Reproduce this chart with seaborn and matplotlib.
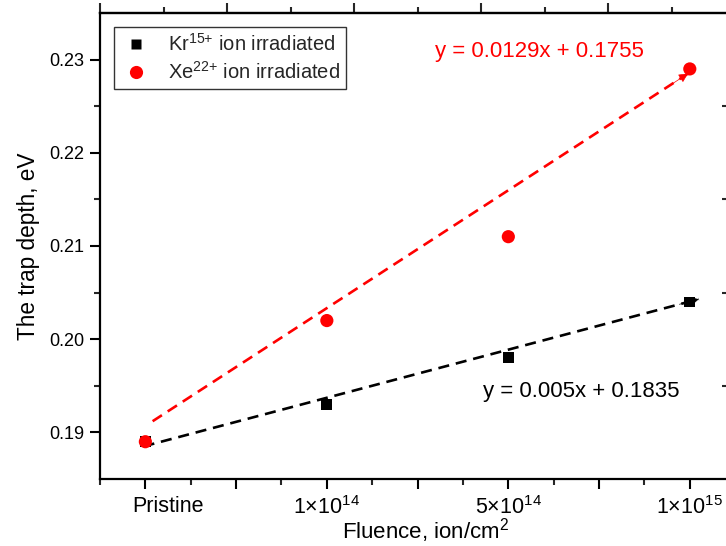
import numpy as np
import pandas as pd
import matplotlib
matplotlib.use("Agg")
import matplotlib.pyplot as plt
import matplotlib.transforms as mtransforms
import seaborn as sns

# ---- data ----
categories = ["Pristine", "1\u00d710$^{14}$", "5\u00d710$^{14}$", "1\u00d710$^{15}$"]
x_pos = [1, 2, 3, 4]
kr_values = [0.189, 0.193, 0.198, 0.204]
xe_values = [0.189, 0.202, 0.211, 0.229]
kr_label = "Kr$^{15{+}}$ ion irradiated"
xe_label = "Xe$^{22{+}}$ ion irradiated"
kr_eq = "y = 0.005x + 0.1835"
xe_eq = "y = 0.0129x + 0.1755"
# drawn trend-line endpoints
kr_line_x = [0.99, 4.05]
kr_line_y = [0.1885, 0.2043]
xe_line_x = [1.04, 3.99]
xe_line_y = [0.1912, 0.2285]

sns.set_theme(style="ticks")
plt.rcParams["font.family"] = ["Liberation Sans", "DejaVu Sans"]
plt.rcParams["mathtext.fontset"] = "custom"
plt.rcParams["mathtext.rm"] = "Liberation Sans"
plt.rcParams["mathtext.it"] = "Liberation Sans:italic"
plt.rcParams["mathtext.bf"] = "Liberation Sans:bold"

fig = plt.figure(figsize=(7.26, 5.46), dpi=100)
L, R, T, B = 100, 729, 13, 479
ax = fig.add_axes([L / 726, (546 - B) / 546, (R - L) / 726, (B - T) / 546])

df = pd.DataFrame({"x": x_pos * 2,
                   "y": kr_values + xe_values,
                   "series": [kr_label] * 4 + [xe_label] * 4})

red = "#ff0000"
dash = (0, (4.2, 2.6))
ax.plot(kr_line_x, kr_line_y, color="black", lw=1.9, linestyle=dash, zorder=2)
ax.plot(xe_line_x, xe_line_y, color=red, lw=1.9, linestyle=dash, zorder=2)
for lx, ly, c in [(kr_line_x, kr_line_y, "black"), (xe_line_x, xe_line_y, red)]:
    dx = (lx[1] - lx[0]) * 0.035
    dy = (ly[1] - ly[0]) * 0.035
    ax.annotate("", xy=(lx[1], ly[1]), xytext=(lx[1] - dx, ly[1] - dy),
                arrowprops=dict(arrowstyle="-|>", color=c, lw=0.5,
                                mutation_scale=14, shrinkA=0, shrinkB=0),
                zorder=3)

sns.scatterplot(data=df, x="x", y="y", hue="series", style="series",
                size="series",
                palette={kr_label: "black", xe_label: red},
                markers={kr_label: "s", xe_label: "o"},
                sizes={kr_label: 60, xe_label: 90},
                edgecolor="none", ax=ax, zorder=4)

ax.set_xlim(0.752, 4.216)
ax.set_ylim(0.185, 0.235)

major_x = [1, 1.5, 2, 2.5, 3, 3.5, 4]
ax.set_xticks(major_x)
labels = []
for v in major_x:
    labels.append(categories[x_pos.index(v)] if v in x_pos else "")
ax.set_xticklabels(labels)
ax.set_xticks([0.75, 1.25, 1.75, 2.25, 2.75, 3.25, 3.75], minor=True)
ax.set_yticks([0.19, 0.20, 0.21, 0.22, 0.23])
ax.set_yticklabels(["0.19", "0.20", "0.21", "0.22", "0.23"])
ax.set_yticks([0.195, 0.205, 0.215, 0.225], minor=True)

ax.tick_params(axis="x", which="major", direction="out", length=7, width=1.5,
               labelsize=15.5, pad=5, colors="black")
ax.tick_params(axis="x", which="minor", direction="out", length=4, width=1.5)
ax.tick_params(axis="y", which="major", direction="out", length=7, width=1.5,
               labelsize=13, pad=4, colors="black")
ax.tick_params(axis="y", which="minor", direction="out", length=4, width=1.5)
ax.tick_params(top=False, right=False)

# "Pristine" label sits to the right of its tick in the reference
shift = mtransforms.ScaledTranslation(0.23, 0, fig.dpi_scale_trans)
for lab in ax.get_xticklabels():
    if lab.get_text() == "Pristine":
        lab.set_transform(lab.get_transform() + shift)

for sp in ax.spines.values():
    sp.set_linewidth(1.6)
    sp.set_color("black")
    sp.set_visible(True)

# top axis with its own ticks
top = ax.secondary_xaxis("top")
top.set_xticks([0.75, 1.45, 2.15, 2.85, 3.55])
top.set_xticks([1.1, 1.8, 2.5, 3.2, 3.9], minor=True)
top.set_xticklabels([])
top.tick_params(which="major", direction="out", length=7, width=1.5)
top.tick_params(which="minor", direction="out", length=4, width=1.5)
top.spines["top"].set_linewidth(1.6)

# right axis with inward ticks
right = ax.secondary_yaxis("right")
right.set_yticks([])
right.set_yticks([0.195, 0.205, 0.215, 0.225], minor=True)
right.tick_params(which="minor", direction="in", length=5, width=1.5)
right.spines["right"].set_linewidth(1.6)

ax.set_xlabel("Fluence, ion/cm$^2$", fontsize=16, color="black")
ax.xaxis.set_label_coords(0.518, -0.080)
ax.set_ylabel("The trap depth, eV", fontsize=16.3, labelpad=7, color="black")

ax.text(3.17, 0.2309, xe_eq, color=red, fontsize=16, ha="center", va="center")
ax.text(3.40, 0.1944, kr_eq, color="black", fontsize=16, ha="center", va="center")

leg = ax.legend(loc="upper left", bbox_to_anchor=(0.022, 0.970),
                borderaxespad=0, fontsize=14.5, frameon=True, fancybox=False,
                handletextpad=0.8, labelspacing=0.3, borderpad=0.3,
                handlelength=1.6, markerscale=1.0)
leg.get_frame().set_edgecolor("black")
leg.get_frame().set_linewidth(1.0)

fig.savefig("out.png", dpi=100)
